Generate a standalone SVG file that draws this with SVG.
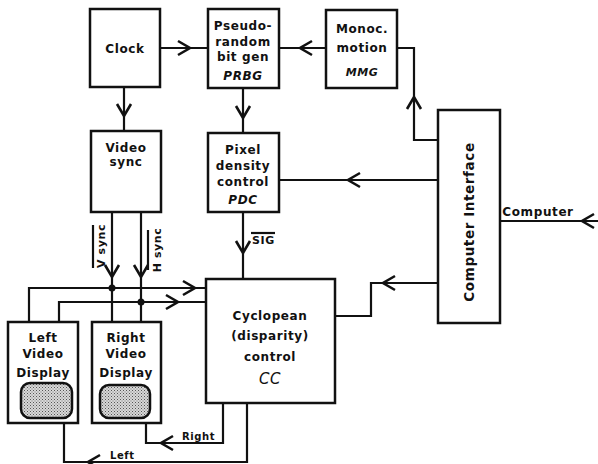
<svg xmlns="http://www.w3.org/2000/svg" xmlns:xlink="http://www.w3.org/1999/xlink" width="598" height="464" viewBox="0 0 598 464">
<style>
.box{fill:#fff;stroke:#111;stroke-width:2.5}
.ln{fill:none;stroke:#111;stroke-width:2.2}
.t{font-family:"DejaVu Sans",sans-serif;font-weight:bold;font-size:12px;fill:#111;text-anchor:middle;letter-spacing:0.6px}
.i{font-style:italic}
.s{font-size:10px;text-anchor:start}
.r{font-size:11px}
.scr{fill:url(#dots);stroke:#111;stroke-width:2.5}
</style>
<defs>
<pattern id="dots" width="3" height="3" patternUnits="userSpaceOnUse">
<rect width="3" height="3" fill="#d8d8d8"/>
<rect x="0" y="0" width="1" height="1" fill="#555"/>
<rect x="1.5" y="1.5" width="1" height="1" fill="#777"/>
</pattern>
<path id="ah" d="M-12,-7 L0,0 L-12,7" fill="none" stroke="#111" stroke-width="2.6"/>
</defs>
<rect width="598" height="464" fill="#fff"/>

<g id="connectors">
<path class="ln" d="M160,48 H208"/>
<use xlink:href="#ah" transform="translate(190,48)"/>
<path class="ln" d="M124,87 V131"/>
<use xlink:href="#ah" transform="translate(124,116) rotate(90)"/>
<path class="ln" d="M243,88 V133"/>
<use xlink:href="#ah" transform="translate(243,118) rotate(90)"/>
<path class="ln" d="M326,48 H279"/>
<use xlink:href="#ah" transform="translate(300,48) rotate(180)"/>
<path class="ln" d="M438,140 H414 V48 H397"/>
<use xlink:href="#ah" transform="translate(414,97) rotate(-90)"/>
<path class="ln" d="M438,180 H279"/>
<use xlink:href="#ah" transform="translate(348,180) rotate(180)"/>
<path class="ln" d="M598,221 H500"/>
<use xlink:href="#ah" transform="translate(582,221) rotate(180)"/>
<path class="ln" d="M438,283 H371 V316 H335"/>
<use xlink:href="#ah" transform="translate(383,283) rotate(180)"/>
<path class="ln" d="M243,212 V279"/>
<use xlink:href="#ah" transform="translate(243,253) rotate(90)"/>
<path class="ln" d="M112,211 V322"/>
<use xlink:href="#ah" transform="translate(112,277) rotate(90)"/>
<path class="ln" d="M141,211 V322"/>
<use xlink:href="#ah" transform="translate(141,277) rotate(90)"/>
<path class="ln" d="M29,322 V288 H206"/>
<use xlink:href="#ah" transform="translate(195,288)"/>
<path class="ln" d="M59,322 V302 H206"/>
<use xlink:href="#ah" transform="translate(178,302)"/>
<circle cx="112" cy="288" r="3.5" fill="#111"/>
<circle cx="141" cy="302" r="3.5" fill="#111"/>
<path class="ln" d="M223,403 V443 H146 V423"/>
<use xlink:href="#ah" transform="translate(161,443) rotate(180)"/>
<path class="ln" d="M247,403 V462 H64 V423"/>
<use xlink:href="#ah" transform="translate(88,462) rotate(180)"/>
<text class="t r" transform="translate(104.5,246) rotate(-90)">V sync</text>
<path class="ln" d="M93,225 V268" stroke-width="1.6"/>
<text class="t r" transform="translate(161,250) rotate(-90)">H sync</text>
<path class="ln" d="M148,230 V270" stroke-width="1.6"/>
<text class="t s" x="252" y="244" style="font-size:11px">SIG</text>
<path class="ln" d="M251,233 H275" stroke-width="1.6"/>
<text class="t" x="538" y="216">Computer</text>
<text class="t s" x="182" y="440">Right</text>
<text class="t s" x="110" y="459">Left</text>
</g>

<g id="clock">
<rect class="box" x="90" y="9" width="70" height="78"/>
<text class="t" x="125" y="53">Clock</text>
</g>
<g id="prbg">
<rect class="box" x="208" y="9" width="71" height="79"/>
<text class="t" x="243" y="30">Pseudo-</text>
<text class="t" x="243" y="46">random</text>
<text class="t" x="243" y="61">bit gen</text>
<text class="t i" x="243" y="80">PRBG</text>
</g>
<g id="mmg">
<rect class="box" x="326" y="10" width="71" height="78"/>
<text class="t" x="362" y="33">Monoc.</text>
<text class="t" x="362" y="52">motion</text>
<text class="t i" x="362" y="76" style="font-size:11px">MMG</text>
</g>
<g id="videosync">
<rect class="box" x="91" y="131" width="70" height="81"/>
<text class="t" x="126" y="152">Video</text>
<text class="t" x="126" y="166">sync</text>
</g>
<g id="pdc">
<rect class="box" x="208" y="133" width="71" height="79"/>
<text class="t" x="243" y="154">Pixel</text>
<text class="t" x="243" y="170">density</text>
<text class="t" x="243" y="186">control</text>
<text class="t i" x="243" y="204">PDC</text>
</g>
<g id="ci">
<rect class="box" x="438" y="110" width="62" height="213"/>
<text class="t" transform="translate(474,222) rotate(-90)" style="font-size:13.5px">Computer Interface</text>
</g>
<g id="cc">
<rect class="box" x="206" y="279" width="129" height="124"/>
<text class="t" x="270" y="320">Cyclopean</text>
<text class="t" x="270" y="340">(disparity)</text>
<text class="t" x="270" y="361">control</text>
<text class="t i" x="270" y="384" style="font-weight:normal;font-size:15px">CC</text>
</g>
<g id="leftdisplay">
<rect class="box" x="8" y="322" width="70" height="101"/>
<text class="t" x="43" y="342">Left</text>
<text class="t" x="43" y="358">Video</text>
<text class="t" x="43" y="377">Display</text>
<rect class="scr" x="21" y="383" width="51" height="35" rx="9"/>
</g>
<g id="rightdisplay">
<rect class="box" x="92" y="322" width="69" height="101"/>
<text class="t" x="126" y="342">Right</text>
<text class="t" x="126" y="358">Video</text>
<text class="t" x="126" y="377">Display</text>
<rect class="scr" x="100" y="385" width="50" height="33" rx="9"/>
</g>
</svg>
